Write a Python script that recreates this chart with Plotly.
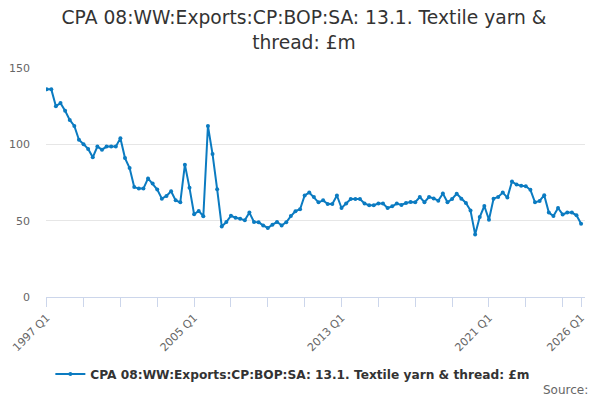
import plotly.graph_objects as go

years = list(range(1997, 2027))
categories = [f"{y} Q{q}" for y in years for q in range(1, 5)][:117]

values = [
    136, 136, 125, 127, 122, 116, 112, 103, 100, 97,
    91.5, 98.5, 96.5, 98.5, 98.5, 98.5, 104, 91, 84.5, 72,
    71, 71, 77.7, 74.3, 70.4, 64.4, 66.2, 69.3, 63.3, 62,
    86.7, 71.5, 54.2, 56.4, 52.9, 112, 93.6, 70.6, 46.2, 49.1,
    53.2, 51.9, 51.3, 50.2, 55.3, 49.1, 48.9, 46.9, 45.2, 47.4,
    49.1, 46.9, 48.9, 53, 56.2, 57.5, 66.5, 68.4, 65.5, 62,
    63.3, 60.9, 60.9, 66.5, 58.3, 61.2, 64.2, 64.2, 64.2, 61.2,
    60.1, 60.1, 61.2, 61.2, 58.3, 59.4, 61.2, 60.3, 61.6, 62.2,
    62.1, 65.5, 62.1, 65.5, 64.6, 63.1, 67.8, 62.1, 64.2, 67.6,
    64.4, 61.6, 56.6, 41, 52.4, 59.6, 50.6, 64.4, 65.5, 68.4,
    65.1, 75.6, 73.7, 72.8, 72.6, 70.2, 62, 62.9, 66.7, 55.3,
    53, 58.3, 54.1, 55.3, 55.3, 53.5, 48,
]

tick_labels = ["1997 Q1", "2005 Q1", "2013 Q1", "2021 Q1", "2026 Q1"]
tick_positions = categories[::8] + [categories[-1]]
tick_texts = [c if c in tick_labels else "" for c in tick_positions]

series_name = "CPA 08:WW:Exports:CP:BOP:SA: 13.1. Textile yarn & thread: £m"
title_text = "CPA 08:WW:Exports:CP:BOP:SA: 13.1. Textile yarn &<br>thread: £m"

color = "#0b7bc1"
font_family = "DejaVu Sans"

# page body has an 8px margin, so the figure is sized to end at the window edge
fig = go.Figure()
fig.add_trace(go.Scatter(
    x=categories, y=values, mode="lines+markers", name=series_name,
    line=dict(color=color, width=2),
    marker=dict(color=color, size=4),
))

fig.update_layout(
    width=592, height=392,
    margin=dict(l=38, r=15, t=60, b=103),
    paper_bgcolor="white", plot_bgcolor="white",
    font=dict(family=font_family, color="#666666", size=11),
    title=dict(text=title_text, x=0.5, xanchor="center", xref="container",
               yref="container", y=0.958, yanchor="top",
               font=dict(family=font_family, size=18.7, color="#333333")),
    showlegend=True,
    legend=dict(orientation="h", x=0.458, xanchor="center", yref="container", y=0.0663,
                yanchor="middle", font=dict(family=font_family, size=12.2, color="#333333",
                                            weight="bold"),
                itemwidth=30),
    xaxis=dict(
        type="category", categoryorder="array", categoryarray=categories,
        range=[-0.15, len(categories) - 1 + 0.85], automargin=False,
        tickmode="array", tickvals=tick_positions, ticktext=tick_texts,
        tickangle=-45, ticks="outside", ticklen=9, tickcolor="#ccd6eb",
        showline=True, linecolor="#ccd6eb", linewidth=1,
        showgrid=False, zeroline=False,
        tickfont=dict(size=11, color="#666666"),
    ),
    yaxis=dict(
        range=[0, 150], tickvals=[0, 50, 100, 150], automargin=False,
        showgrid=True, gridcolor="#e6e6e6", zeroline=False, showline=False,
        ticks="", tickfont=dict(size=11, color="#666666"), ticklabelstandoff=15,
    ),
    annotations=[dict(
        text="Source:", xref="paper", yref="paper", x=1.0093, y=-0.406,
        xanchor="right", yanchor="middle", showarrow=False,
        font=dict(family=font_family, size=12, color="#666666"),
    )],
)

fig.write_html("out.html")
